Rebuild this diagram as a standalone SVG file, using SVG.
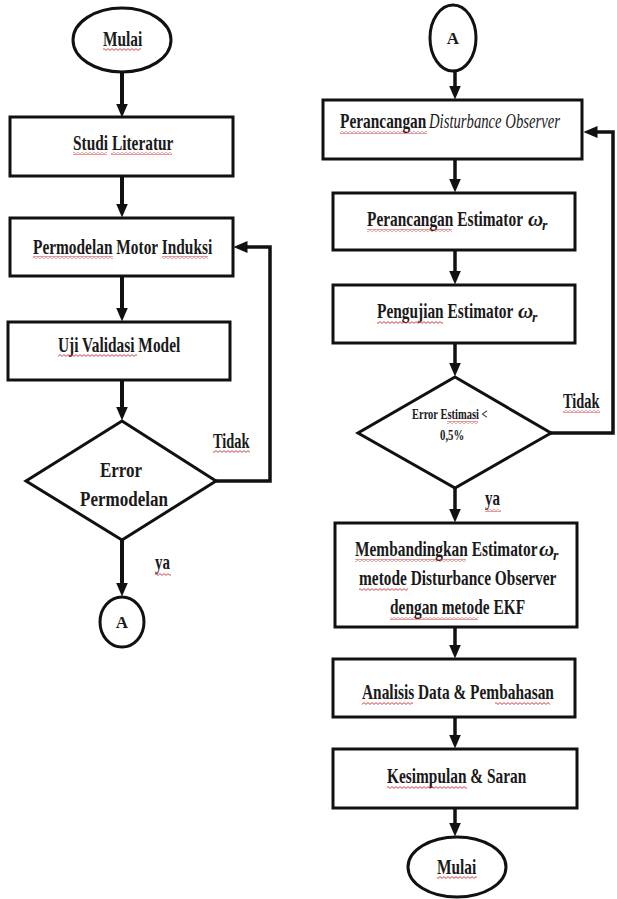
<svg xmlns="http://www.w3.org/2000/svg" width="617" height="899" viewBox="0 0 617 899">
<style>
.shape{fill:#fff;stroke:#111;stroke-width:3}
.t{font-family:"Liberation Serif","Times New Roman",serif;font-weight:bold;fill:#1a1a1a;font-size:22px}
.s{font-size:15px}
.m{font-size:20px}
.it{font-style:italic}
.ln{fill:none;stroke:#111;stroke-width:4}
.ln2{fill:none;stroke:#111;stroke-width:3.5}
.sq{fill:url(#squig)}
</style>
<defs>
<marker id="ah" viewBox="0 0 14 12" refX="0.5" refY="6" markerWidth="14" markerHeight="12" markerUnits="userSpaceOnUse" orient="auto">
<path d="M0,0 L14,6 L0,12 z" fill="#111"/>
</marker>
<pattern id="squig" patternUnits="userSpaceOnUse" width="4" height="3">
<polyline points="0,0.6 2,2.4 4,0.6" fill="none" stroke="#d03030" stroke-width="0.9"/>
</pattern>
</defs>
<rect width="617" height="899" fill="#fff"/>

<g id="connectors">
<line class="ln" x1="122" y1="72" x2="122" y2="104" marker-end="url(#ah)"/>
<line class="ln" x1="122" y1="176" x2="122" y2="204" marker-end="url(#ah)"/>
<line class="ln" x1="122" y1="276" x2="122" y2="308" marker-end="url(#ah)"/>
<line class="ln" x1="122" y1="380" x2="122" y2="407" marker-end="url(#ah)"/>
<line class="ln" x1="122" y1="540" x2="122" y2="583" marker-end="url(#ah)"/>
<polyline class="ln2" points="215,481 270,481 270,247 247,247" marker-end="url(#ah)"/>
<line class="ln2" x1="455" y1="71" x2="455" y2="86" marker-end="url(#ah)"/>
<line class="ln2" x1="455" y1="159" x2="455" y2="179" marker-end="url(#ah)"/>
<line class="ln2" x1="455" y1="250" x2="455" y2="271" marker-end="url(#ah)"/>
<line class="ln2" x1="455" y1="343" x2="455" y2="363" marker-end="url(#ah)"/>
<line class="ln2" x1="455" y1="488" x2="455" y2="509" marker-end="url(#ah)"/>
<line class="ln2" x1="455" y1="627" x2="455" y2="645" marker-end="url(#ah)"/>
<line class="ln2" x1="455" y1="717" x2="455" y2="735" marker-end="url(#ah)"/>
<line class="ln2" x1="455" y1="808" x2="455" y2="823" marker-end="url(#ah)"/>
<polyline class="ln2" points="550,433 613,433 613,132 597,132" marker-end="url(#ah)"/>
</g>

<g id="mulai-start">
<ellipse class="shape" cx="122" cy="40" rx="49" ry="32"/>
<text class="t" transform="translate(103,46) scale(0.7,1)">Mulai</text>
<rect class="sq" x="103" y="48" width="38" height="3"/>
</g>

<g id="studi">
<rect class="shape" x="10" y="117" width="223" height="59"/>
<text class="t" transform="translate(73,150) scale(0.7,1)">Studi Literatur</text>
<rect class="sq" x="73" y="152" width="34" height="3"/>
<rect class="sq" x="111" y="152" width="61" height="3"/>
</g>

<g id="permodelan">
<rect class="shape" x="10" y="218" width="223" height="58"/>
<text class="t" transform="translate(33,254) scale(0.7,1)">Permodelan Motor Induksi</text>
<rect class="sq" x="33" y="256" width="80" height="3"/>
<rect class="sq" x="162" y="256" width="46" height="3"/>
</g>

<g id="uji">
<rect class="shape" x="8" y="322" width="222" height="58"/>
<text class="t" transform="translate(58,352) scale(0.7,1)">Uji Validasi Model</text>
<rect class="sq" x="58" y="354" width="79" height="3"/>
</g>

<g id="error-permodelan">
<polygon class="shape" points="122,421 216,481 122,540 26,481"/>
<text class="t m" transform="translate(121,477) scale(0.85,1)" text-anchor="middle">Error</text>
<text class="t m" transform="translate(124,506) scale(0.85,1)" text-anchor="middle">Permodelan</text>
</g>

<g id="label-tidak-left">
<text class="t m" transform="translate(213,448) scale(0.72,1)">Tidak</text>
<rect class="sq" x="213" y="450" width="37" height="3"/>
</g>
<g id="label-ya-left">
<text class="t m" transform="translate(155,569) scale(0.75,1)">ya</text>
<rect class="sq" x="155" y="573" width="16" height="3"/>
</g>

<g id="connector-a-left">
<ellipse class="shape" cx="122" cy="622" rx="22" ry="25"/>
<text class="t" x="122" y="628" text-anchor="middle" style="font-size:17px">A</text>
</g>

<g id="connector-a-right">
<ellipse class="shape" cx="453" cy="38" rx="23" ry="33"/>
<text class="t" x="453" y="44" text-anchor="middle" style="font-size:17px">A</text>
</g>

<g id="perancangan-do">
<rect class="shape" x="323" y="100" width="259" height="59"/>
<text class="t" transform="translate(340,128) scale(0.7,1)">Perancangan</text>
<text class="t it" transform="translate(429,128) scale(0.7,1)" style="font-size:21px;font-weight:normal">Disturbance Observer</text>
<rect class="sq" x="340" y="131" width="87" height="3"/>
</g>

<g id="perancangan-est">
<rect class="shape" x="333" y="193" width="242" height="57"/>
<text class="t" transform="translate(367,226) scale(0.7,1)">Perancangan Estimator</text>
<text class="t it" x="528" y="226" style="font-size:21px">ω</text>
<text class="t it" x="542" y="230" style="font-size:14px">r</text>
<rect class="sq" x="367" y="229" width="85" height="3"/>
</g>

<g id="pengujian-est">
<rect class="shape" x="333" y="285" width="242" height="58"/>
<text class="t" transform="translate(377,318) scale(0.7,1)">Pengujian Estimator</text>
<text class="t it" x="518" y="318" style="font-size:21px">ω</text>
<text class="t it" x="532" y="322" style="font-size:14px">r</text>
<rect class="sq" x="377" y="321" width="66" height="3"/>
</g>

<g id="error-estimasi">
<polygon class="shape" points="455,377 551,433 455,488 358,433"/>
<text class="t s" transform="translate(412,419) scale(0.7,1)">Error Estimasi &lt;</text>
<text class="t s" transform="translate(440,440) scale(0.72,1)">0,5%</text>
<rect class="sq" x="447" y="421" width="31" height="3"/>
</g>

<g id="label-tidak-right">
<text class="t m" transform="translate(563,408) scale(0.72,1)">Tidak</text>
<rect class="sq" x="563" y="410" width="37" height="3"/>
</g>
<g id="label-ya-right">
<text class="t m" transform="translate(485,505) scale(0.75,1)">ya</text>
<rect class="sq" x="485" y="509" width="16" height="3"/>
</g>

<g id="membandingkan">
<rect class="shape" x="335" y="523" width="242" height="104"/>
<text class="t" transform="translate(355,556) scale(0.7,1)">Membandingkan Estimator</text>
<text class="t it" x="539" y="556" style="font-size:21px">ω</text>
<text class="t it" x="553" y="560" style="font-size:14px">r</text>
<text class="t" transform="translate(359,585) scale(0.7,1)">metode Disturbance Observer</text>
<text class="t" transform="translate(390,614) scale(0.7,1)">dengan metode EKF</text>
<rect class="sq" x="355" y="559" width="111" height="3"/>
<rect class="sq" x="359" y="588" width="49" height="3"/>
<rect class="sq" x="390" y="617" width="88" height="3"/>
</g>

<g id="analisis">
<rect class="shape" x="333" y="659" width="242" height="58"/>
<text class="t" transform="translate(362,699) scale(0.7,1)">Analisis Data &amp; Pembahasan</text>
<rect class="sq" x="362" y="702" width="51" height="3"/>
<rect class="sq" x="495" y="702" width="55" height="3"/>
</g>

<g id="kesimpulan">
<rect class="shape" x="333" y="749" width="244" height="59"/>
<text class="t" transform="translate(387,783) scale(0.7,1)">Kesimpulan &amp; Saran</text>
<rect class="sq" x="387" y="786" width="80" height="3"/>
</g>

<g id="mulai-end">
<ellipse class="shape" cx="457" cy="867" rx="49" ry="30"/>
<text class="t" transform="translate(437,874) scale(0.7,1)">Mulai</text>
<rect class="sq" x="437" y="876" width="40" height="3"/>
</g>
</svg>
